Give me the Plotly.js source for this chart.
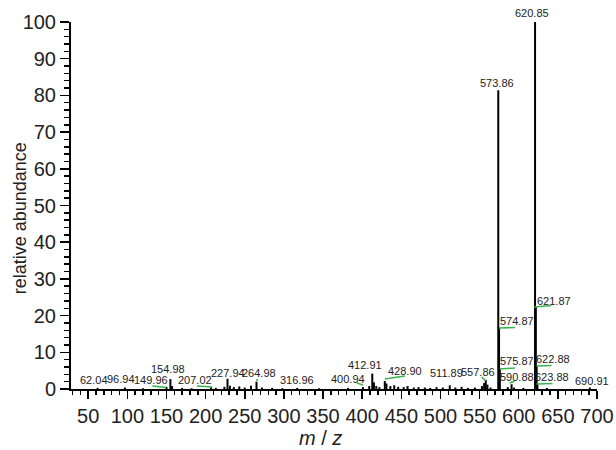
<!DOCTYPE html>
<html><head><meta charset="utf-8">
<script src="https://cdn.plot.ly/plotly-3.0.1.min.js"></script>
<style>html,body{margin:0;padding:0;background:#fff}#chart{width:616px;height:450px}</style>
</head><body><div id="chart"></div>
<script>
// ---- data ----
const mz = [62.04, 96.94, 120, 149.96, 154.98, 157, 170, 182, 207.02, 213, 224, 227.94, 231, 236, 243, 250, 258, 264.98, 272, 285, 298, 316.96, 345, 382, 400.94, 409, 412.91, 415, 418, 422, 428.90, 431, 436, 441, 446, 453, 458, 466, 472, 480, 487, 495, 503, 511.89, 519, 527, 535, 544, 553, 555.8, 557.86, 560, 564, 573.86, 574.87, 575.87, 586, 590.88, 594, 606, 620.85, 621.87, 622.88, 623.88, 636, 690.91];
const abundance = [0.3, 0.4, 0.2, 0.6, 2.7, 0.8, 0.3, 0.2, 0.5, 0.3, 0.6, 2.8, 0.9, 0.5, 0.7, 0.4, 0.9, 2.0, 0.4, 0.3, 0.2, 0.3, 0.2, 0.3, 0.5, 0.8, 4.2, 1.8, 0.8, 0.5, 2.2, 1.5, 0.8, 1.0, 0.6, 0.5, 0.8, 0.4, 0.5, 0.4, 0.3, 0.5, 0.4, 1.0, 0.4, 0.6, 0.3, 0.4, 0.8, 1.6, 2.5, 1.2, 0.4, 81.4, 16.6, 5.4, 0.5, 1.3, 0.4, 0.3, 100, 22.3, 6.2, 1.4, 0.3, 0.4];
const labelText = ['62.04', '96.94', '149.96', '154.98', '207.02', '227.94', '264.98', '316.96', '400.94', '412.91', '428.90', '511.89', '557.86', '573.86', '574.87', '575.87', '590.88', '620.85', '621.87', '622.88', '623.88', '690.91'];
const leaderLabels = ['149.96', '207.02', '264.98', '400.94', '428.90', '557.86', '574.87', '575.87', '590.88', '621.87', '622.88', '623.88'];
const xTickLabels = ['50', '100', '150', '200', '250', '300', '350', '400', '450', '500', '550', '600', '650', '700'];
const yTickLabels = ['0', '10', '20', '30', '40', '50', '60', '70', '80', '90', '100'];

// ---- placement of labels (pixel shifts from the peak top) ----
const labelShift = {
  '62.04': [-4, 8], '96.94': [-4, 9], '149.96': [-15, 7], '154.98': [-2, 10],
  '207.02': [-16, 7], '227.94': [0, 6], '264.98': [3, 9], '316.96': [0, 8],
  '400.94': [-15, 8], '412.91': [-7, 9], '428.90': [20, 10], '511.89': [-3, 12],
  '557.86': [-8, 8], '573.86': [-1, 7], '574.87': [18, 7], '575.87': [17, 8],
  '590.88': [5, 7], '620.85': [-3, 9], '621.87': [18, 6], '622.88': [16, 7],
  '623.88': [15, 7], '690.91': [2, 6.5]
};
// green leader segments: [dx0, dx1, dy0, dy1] pixels from (peak m/z, 0)
const leaderGeom = {
  '149.96': [-14, 0, 3, 1.5], '207.02': [-14, 1, 3, 2], '264.98': [0.5, 0.5, 8, 10],
  '400.94': [-6, 0, 6, 4], '428.90': [0, 20, 10, 13], '557.86': [-4, 0, 12, 8],
  '574.87': [0, 16, 61, 61.5], '575.87': [0, 15, 20, 21], '590.88': [-2, 3, 6, 8],
  '621.87': [-1.5, 15.5, 82, 83.5], '622.88': [0, 15, 23, 23.5], '623.88': [-1, 15, 5, 5.5]
};

const FONT = 'Liberation Sans, Arial, sans-serif';

// stick spectrum from the arrays
const xs = [], ys = [];
mz.forEach((m, i) => { xs.push(m, m, null); ys.push(0, abundance[i], null); });

const annotations = labelText.map(t => {
  const m = parseFloat(t);
  const h = abundance[mz.indexOf(m)];
  const s = labelShift[t];
  return {x: m, y: h, xref: 'x', yref: 'y', text: t, showarrow: false,
    xanchor: 'center', yanchor: 'middle', xshift: s[0], yshift: s[1],
    font: {family: FONT, size: 11, color: '#222'}};
});
annotations.push({xref: 'paper', yref: 'paper', x: -0.097, y: 0.465, textangle: -90,
  text: 'relative abundance', showarrow: false, xanchor: 'center', yanchor: 'middle',
  font: {family: FONT, size: 18, color: '#222'}});
annotations.push({xref: 'paper', yref: 'paper', x: 0.475, y: -0.1335,
  text: '<i>m</i> / <i>z</i>', showarrow: false, xanchor: 'center', yanchor: 'middle',
  font: {family: FONT, size: 20, color: '#222'}});

const shapes = leaderLabels.map(t => {
  const g = leaderGeom[t];
  return {type: 'line', xref: 'x', yref: 'y', xsizemode: 'pixel', ysizemode: 'pixel',
    xanchor: parseFloat(t), yanchor: 0, x0: g[0], x1: g[1], y0: g[2], y1: g[3],
    line: {color: '#3cb44b', width: 1.6}};
});

const data = [{x: xs, y: ys, type: 'scatter', mode: 'lines',
  line: {color: '#000', width: 2}, hoverinfo: 'skip', cliponaxis: false}];

const layout = {
  width: 616, height: 450,
  margin: {l: 71, r: 19, t: 22, b: 61},
  paper_bgcolor: '#fff', plot_bgcolor: '#fff',
  showlegend: false,
  xaxis: {range: [28, 700], tickmode: 'array', tickvals: xTickLabels.map(Number), ticktext: xTickLabels,
    showline: true, linecolor: '#000', linewidth: 2, ticks: 'outside', ticklen: 8, tickwidth: 1.5, tickcolor: '#000',
    minor: {dtick: 10, tick0: 0, ticks: 'outside', ticklen: 4, tickwidth: 1.5, tickcolor: '#000'},
    showgrid: false, zeroline: false, tickfont: {family: FONT, size: 20, color: '#222'}},
  yaxis: {range: [0, 100], tickmode: 'array', tickvals: yTickLabels.map(Number), ticktext: yTickLabels,
    showline: true, linecolor: '#000', linewidth: 2, ticks: 'outside', ticklen: 9, tickwidth: 1.5, tickcolor: '#000',
    minor: {dtick: 2, tick0: 0, ticks: 'outside', ticklen: 5, tickwidth: 1.5, tickcolor: '#000'},
    showgrid: false, zeroline: false, tickfont: {family: FONT, size: 20, color: '#222'}},
  annotations: annotations,
  shapes: shapes
};

Plotly.newPlot('chart', data, layout, {staticPlot: true, displayModeBar: false});
</script>
</body></html>
